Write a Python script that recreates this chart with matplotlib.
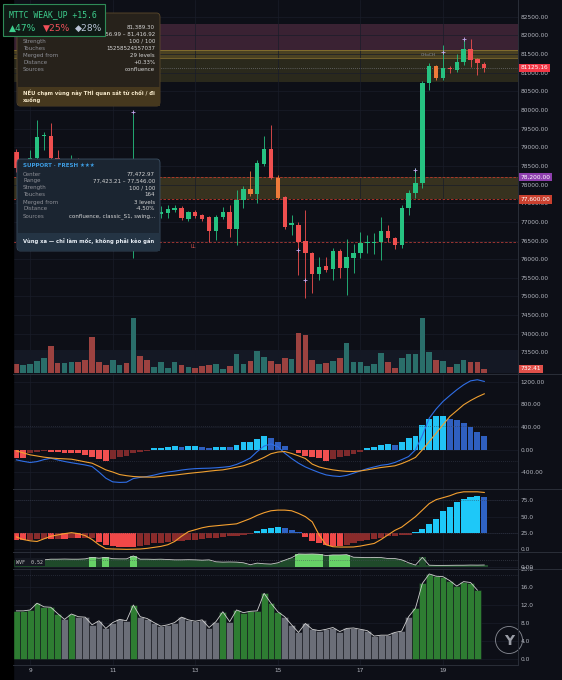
"""
Gráfico BTC 4H con zonas S/R, MACD, oscilador, WVF y volatilidad
Uso:
    python plot.py
"""

import numpy as np
import matplotlib
matplotlib.use("Agg")
import matplotlib.pyplot as plt
from matplotlib.patches import FancyBboxPatch, Rectangle, Ellipse
from matplotlib.lines import Line2D
from matplotlib.transforms import Bbox, TransformedBbox

W, H = 562, 680
plt.rcParams['font.family'] = ['DejaVu Sans']

# ─────────────────────────────────────────────
# 1. DATOS
# ─────────────────────────────────────────────
fechas_pos = [2, 14, 26, 38, 50, 62]
fechas_lbl = ['9', '11', '13', '15', '17', '19']

apertura = [78870, 78440, 78550, 78712, 79300, 79300, 78712, 78400, 78550, 78650,
            78350, 78050, 77300, 77150, 77050, 77300, 77400, 77250, 77700, 77450,
            77300, 77200, 77237, 77318, 77372, 77077, 77264, 77184, 77130, 76755,
            77130, 77264, 76809, 77586, 77881, 77747, 78551, 78953, 78176, 77667,
            76915, 76915, 76487, 76165, 75602, 75817, 75737, 76219, 75763, 76031,
            76165, 76433, 76433, 76460, 76755, 76567, 76380, 77372, 77774, 78042,
            80723, 81179, 80857, 81125, 81071, 81286, 81634, 81366, 81232]
maximo = [78950, 78650, 78930, 79730, 79410, 79650, 78930, 78650, 78800, 78700,
          78400, 78100, 77400, 77250, 77400, 77500, 77450, 79890, 77800, 77500,
          77450, 77420, 77452, 77450, 77420, 77300, 77320, 77210, 77150, 77180,
          77399, 77452, 77854, 77950, 78364, 78650, 79302, 79597, 78250, 77700,
          77184, 77000, 77318, 76200, 76058, 76058, 76300, 76280, 76540, 76407,
          76728, 76648, 76700, 77130, 76915, 76600, 77450, 77850, 78444, 80780,
          81250, 81200, 81742, 81180, 81500, 81930, 81903, 81400, 81286]
minimo = [78350, 78350, 78450, 78600, 78930, 78600, 78300, 78300, 78450, 78250,
          77950, 77150, 77000, 76900, 76950, 77200, 77150, 76030, 77350, 77200,
          77200, 77100, 77103, 77260, 77050, 77020, 77100, 77030, 76460, 76514,
          77080, 76594, 76380, 77372, 77700, 77506, 78500, 78150, 77600, 76800,
          76648, 75575, 74959, 75093, 75441, 75650, 75441, 75495, 75039, 75629,
          76031, 76165, 76138, 75978, 76460, 76272, 76300, 77184, 77650, 77900,
          80535, 80800, 80800, 80990, 81020, 81200, 81152, 80937, 81018]
cierre = [78440, 78550, 78712, 79275, 79330, 78712, 78400, 78550, 78650, 78350,
          78050, 77300, 77150, 77050, 77300, 77400, 77250, 77700, 77450, 77300,
          77350, 77260, 77345, 77372, 77103, 77264, 77157, 77077, 76755, 77130,
          77264, 76809, 77586, 77881, 77747, 78578, 78953, 78176, 77640, 76862,
          76970, 76460, 76165, 75602, 75790, 75710, 76219, 75763, 76058, 76165,
          76433, 76460, 76460, 76755, 76567, 76380, 77372, 77774, 78042, 80723,
          81179, 80857, 81125, 81098, 81286, 81634, 81340, 81259, 81125.16]
volumen = [1700, 1520, 1700, 2140, 2750, 5000, 1830, 1830, 2010, 2010,
           2320, 6590, 2010, 1460, 2380, 1520, 1830, 10120, 3110, 2380,
           1100, 2010, 920, 2010, 1520, 1100, 920, 1230, 1520, 1590,
           790, 1340, 3480, 1700, 2140, 4030, 2870, 2250, 1700, 2690,
           2510, 7320, 7010, 2380, 1700, 1880, 2140, 2800, 5490, 2010,
           2010, 1280, 1700, 3710, 2010, 920, 2750, 3480, 3480, 10070,
           3790, 2320, 2140, 1100, 1700, 2430, 1960, 2070, 732.41]
velas_naranja = [34, 38, 61]
marcas_idx = [17, 41, 42, 58, 62, 65]
marcas_val = [79950, 76246, 75441, 78390, 81554, 81902]

# zonas
zona_res = [(81610, 82300, '#3a2233'), (81390, 81610, '#4a4122'), (80750, 81390, '#2a291c')]
lineas_res = [81600, 81390]
zona_sop = (77600, 78200)
nivel_ll = 76460
precio_actual = 81125.16
precio_ticks = list(range(73500, 82501, 500))

# MACD
macd = [-184, -210, -231, -215, -180, -154, -185, -213, -235, -255,
        -275, -302, -400, -510, -575, -585, -581, -516, -495, -480,
        -455, -425, -400, -385, -365, -350, -340, -335, -332, -325,
        -315, -302, -265, -213, -150, -36, 60, 100, 50, -65,
        -160, -243, -310, -362, -410, -451, -470, -480, -460, -421,
        -380, -340, -310, -280, -265, -231, -180, -125, -6, 250,
        557, 720, 854, 960, 1061, 1150, 1220, 1240, 1210]
senal = [-24, -60, -95, -115, -136, -150, -160, -166, -172, -195,
         -220, -243, -300, -362, -400, -445, -465, -480, -487, -490,
         -492, -480, -465, -455, -440, -425, -412, -400, -385, -372,
         -362, -340, -315, -290, -245, -196, -140, -75, -45, -36,
         -70, -113, -160, -260, -310, -340, -362, -378, -388, -391,
         -380, -362, -340, -320, -305, -290, -250, -200, -140, -6,
         140, 290, 440, 587, 690, 795, 870, 935, 990]
hist_macd = [-150, -155, -65, -36, -24, -41, -53, -59, -65, -71,
             -95, -136, -172, -202, -172, -136, -107, -65, -36, -18,
             18, 24, 41, 59, 41, 59, 59, 41, 24, 41,
             53, 36, 83, 130, 142, 190, 243, 213, 142, 65,
             -12, -65, -113, -136, -154, -207, -172, -136, -113, -77,
             -47, 18, 41, 77, 89, 77, 142, 196, 243, 427,
             540, 593, 593, 540, 516, 474, 397, 320, 237]

# Oscilador (base 25)
osc_hist = [-11, -11, -10, -9.5, -9, -9, -8.5, -8.5, -8, -8,
            -7.5, -7, -14, -18, -20, -21, -22, -22, -20, -18,
            -16, -15, -14, -13, -12, -11, -10, -9, -8, -7,
            -6, -5, -4, -3, -2, 3, 6, 8, 9, 8,
            5, 2, -6, -12, -16, -19, -20, -20, -19, -16,
            -13, -11, -9, -7, -5, -4, -3, -2.5, 2, 6,
            14, 22, 33, 40, 48, 52, 55, 56, 55]
osc_linea = [19, 15, 13, 12, 16, 20, 22, 24, 25.5, 24,
             21, 15, 7, 1, 0.5, 0.3, 0, 0.2, 0.5, 1.5,
             3, 4.5, 7, 12, 20, 27, 30, 33, 35, 36,
             37, 38, 39, 43, 47, 52, 56, 59, 60, 60,
             59, 55, 50, 42, 22, 7, 4, 3.5, 3.5, 3.6,
             5, 7, 9, 15, 22, 29, 34, 42, 50, 60,
             70, 76, 79, 82, 86, 88, 88, 88, 87]

# WVF
wvf = [2.0, 2.05, 2.0, 2.0, 2.1, 2.3, 2.3, 2.35, 2.3, 2.3,
       2.4, 2.85, 2.6, 2.85, 2.45, 2.4, 2.4, 3.3, 2.3, 2.3,
       2.25, 2.3, 2.2, 2.1, 2.1, 2.15, 2.1, 2.0, 2.1, 1.5,
       1.4, 1.45, 1.4, 1.2, 0.6, 1.1, 0.9, 0.8, 1.2, 2.0,
       2.75, 3.9, 3.85, 3.9, 3.8, 3.4, 3.6, 3.6, 3.7, 2.9,
       2.85, 2.8, 2.85, 2.8, 2.5, 2.5, 2.1, 1.2, 0.5, 2.85,
       0.45, 0.4, 0.4, 0.42, 0.45, 0.45, 0.5, 0.48, 0.52]
wvf_alerta = [11, 13, 17, 41, 42, 43, 44, 46, 47, 48]

# Volatilidad (panel inferior)
volat = [10.7, 10.7, 10.9, 12.4, 11.6, 11.5, 10.1, 8.8, 10.0, 9.4,
         9.3, 7.6, 8.5, 6.8, 8.1, 8.8, 8.5, 12.0, 9.4, 9.0,
         8.1, 7.3, 7.6, 8.1, 9.3, 8.7, 8.4, 8.7, 7.0, 8.3,
         10.5, 8.3, 10.9, 10.3, 10.6, 10.7, 14.6, 12.4, 10.5, 9.4,
         7.6, 5.9, 7.9, 6.6, 6.3, 6.6, 7.0, 6.1, 6.8, 6.9,
         6.6, 6.3, 5.1, 5.3, 5.3, 5.9, 6.2, 9.4, 11.3, 16.8,
         18.9, 18.4, 18.3, 17.4, 16.2, 17.2, 17.0, 15.3]
volat_verde = [0, 1, 2, 3, 4, 5, 6, 8, 17, 30, 32, 33, 34, 35, 36, 37, 38,
               58, 59, 60, 61, 62, 63, 64, 65, 66, 67]

# ─────────────────────────────────────────────
# 2. ESTILO
# ─────────────────────────────────────────────
BG = '#0d0f17'
GRID = '#191d29'
TXT = '#b2b5be'
SEP = '#2a2e39'
VERDE = '#26c281'
ROJO = '#ef4f4f'
NARANJA = '#ee7b3a'

fig = plt.figure(figsize=(W / 100, H / 100), dpi=100, facecolor=BG)


def fp(x, y):
    return x / W, 1 - y / H


def nuevo_panel(top, bottom):
    ax = fig.add_axes([13 / W, 1 - bottom / H, 505 / W, (bottom - top) / H])
    ax.set_facecolor(BG)
    for s in ax.spines.values():
        s.set_visible(False)
    ax.set_xlim(-0.49, 72.9)
    ax.set_xticks(fechas_pos)
    ax.tick_params(axis='x', length=0, labelbottom=False)
    ax.grid(True, color=GRID, lw=0.5)
    ax.set_axisbelow(True)
    return ax


def eje_derecho(ax, ticks, fmt):
    ax.yaxis.tick_right()
    ax.set_yticks(ticks)
    ax.set_yticklabels([fmt.format(t) for t in ticks])
    ax.tick_params(axis='y', length=0, labelsize=4.2, labelcolor=TXT, pad=2)


def etiqueta_eje(ax, val, txt, color):
    ax.text(1.005, val, txt, transform=ax.get_yaxis_transform(), ha='left', va='center',
            fontsize=4.2, color='white', zorder=10, clip_on=False,
            bbox=dict(boxstyle='square,pad=0.3', fc=color, ec='none'))


def colores_hist(vals, up, up_d, dn, dn_d):
    cols = []
    for k, v in enumerate(vals):
        prev = vals[k - 1] if k else v
        if v >= 0:
            cols.append(up if v >= prev else up_d)
        else:
            cols.append(dn if v <= prev else dn_d)
    return cols


x = np.arange(len(cierre))

# ─────────────────────────────────────────────
# 3. PANEL DE PRECIO
# ─────────────────────────────────────────────
ax = nuevo_panel(0, 373)
axv = ax.twinx()
ax.set_ylim(72948, 82948)

for lo, hi, c in zona_res:
    ax.axhspan(lo, hi, color=c, lw=0, zorder=0.5)
for lv in lineas_res:
    ax.axhline(lv, color='#b8973c', lw=0.5, alpha=0.7, zorder=0.6)
ax.axhspan(zona_sop[0], zona_sop[1], color='#37321f', lw=0, zorder=0.5)
for lv in zona_sop:
    ax.axhline(lv, color='#c0392b', lw=0.6, ls=(0, (3, 2)), zorder=0.6)
ax.axhline(nivel_ll, color='#b03a35', lw=0.6, ls=(0, (3, 2)), zorder=0.6)
ax.axhline(precio_actual, color='#8a8d96', lw=0.5, ls=(0, (1, 2)), zorder=0.6)

ap = np.array(apertura)
ci = np.array(cierre)
col = [VERDE if c >= o else ROJO for o, c in zip(ap, ci)]
for k in velas_naranja:
    col[k] = NARANJA
ax.vlines(x, minimo, maximo, colors=col, lw=0.6, zorder=2)
ax.bar(x, np.maximum(np.abs(ci - ap), 18), bottom=np.minimum(ap, ci), width=0.64,
       color=col, lw=0, zorder=3)
ax.plot(marcas_idx, marcas_val, '+', color='#c4a8f0', ms=3, mew=0.6, zorder=4)
ax.text(59.8, 81420, 'CHoCH', fontsize=3.2, color='#8c9099', ha='center', va='bottom')
ax.text(25.7, 76350, 'LL', fontsize=3.6, color='#d9534f', ha='center', va='center')

eje_derecho(ax, precio_ticks, '{:.2f}')
etiqueta_eje(ax, precio_actual, f'{precio_actual:.2f}', '#f23645')
etiqueta_eje(ax, 78200, '78,200.00', '#8e3fae')
etiqueta_eje(ax, 77600, '77,600.00', '#c9402f')

# volumen superpuesto
axv.set_ylim(0, 68260)
axv.axhspan(0, 4200, color='#141824', lw=0, zorder=0)
vcol = ['#2a6e6a' if c >= o else '#9c4240' for o, c in zip(ap, ci)]
axv.bar(x, volumen, width=0.82, color=vcol, lw=0, zorder=1)
axv.set_yticks([])
for s in axv.spines.values():
    s.set_visible(False)
etiqueta_eje(axv, volumen[-1], f'{volumen[-1]:.2f}', '#e0504a')
ax.yaxis.tick_right()

# ─────────────────────────────────────────────
# 4. MACD
# ─────────────────────────────────────────────
axm = nuevo_panel(374, 489)
axm.set_ylim(-702, 1342)
axm.bar(x, hist_macd, width=0.85, lw=0,
        color=colores_hist(hist_macd, '#22c3f5', '#2f5fbf', '#f05050', '#7d2a2c'))
axm.axhline(420, color='#3a3f4f', lw=0.5, ls=(0, (1, 2)))
axm.axhline(-205, color='#3a3f4f', lw=0.5, ls=(0, (1, 2)))
axm.plot(x, macd, color='#2f6ee6', lw=0.8)
axm.plot(x, senal, color='#f0a030', lw=0.8)
eje_derecho(axm, [-400, 0, 400, 800, 1200], '{:.2f}')

# ─────────────────────────────────────────────
# 5. OSCILADOR
# ─────────────────────────────────────────────
axo = nuevo_panel(489, 552)
axo.set_ylim(-4.1, 92.3)
axo.axhline(75, color='#3a3f4f', lw=0.5, ls=(0, (1, 2)))
axo.axhline(25, color='#3a3f4f', lw=0.5, ls=(0, (1, 2)))
axo.bar(x, osc_hist, bottom=25, width=0.9, lw=0,
        color=colores_hist(osc_hist, '#1ec8f8', '#2f63c4', '#f04848', '#8a2b2b'))
axo.plot(x, osc_linea, color='#f5a030', lw=0.8)
eje_derecho(axo, [0, 25, 50, 75], '{:.1f}')

# ─────────────────────────────────────────────
# 6. WVF
# ─────────────────────────────────────────────
axw = nuevo_panel(552, 568)
axw.set_ylim(-0.4, 4.5)
axw.axhline(2.0, color='#4a4f5c', lw=0.5, ls=(0, (1, 2)))
wcol = ['#67d167' if k in wvf_alerta else '#1f4a2a' for k in x]
axw.bar(x, wvf, width=1.0, color=wcol, lw=0)
axw.plot(x, wvf, color='#c8c8c8', lw=0.6)
eje_derecho(axw, [0], '{:.2f}')
fig.text(*fp(16, 562), 'WVF  0.52', fontsize=3.6, color='#c8c8c8', family='DejaVu Sans Mono',
         va='center', ha='left', zorder=6,
         bbox=dict(boxstyle='square,pad=0.3', fc='#161922', ec='none'))

# ─────────────────────────────────────────────
# 7. PANEL INFERIOR
# ─────────────────────────────────────────────
axb = nuevo_panel(569, 665)
axb.set_ylim(-1.33, 20)
axb.axhline(18.7, color='#3a3f4f', lw=0.5, ls=(0, (1, 2)))
xb = np.arange(len(volat))
bcol = ['#2e7d32' if k in volat_verde else '#6b6e78' for k in xb]
axb.bar(xb, volat, width=1.0, color=bcol, edgecolor='#14161d', lw=0.4)
axb.plot(xb, volat, color='#d0d0d0', lw=0.6)
eje_derecho(axb, [0, 4, 8, 12, 16, 20], '{:.1f}')
axb.set_xticklabels(fechas_lbl)
axb.tick_params(axis='x', labelbottom=True, labelsize=4.2, labelcolor=TXT, pad=2.5)

# logo
fig.add_artist(Ellipse(fp(509, 640), 27 / W, 27 / H, transform=fig.transFigure,
                       fc='none', ec='#8a8d96', lw=0.6, zorder=5))
fig.text(*fp(509, 641), 'Y', fontsize=10, color='#9a9da6', weight='bold',
         ha='center', va='center', zorder=6)

# ─────────────────────────────────────────────
# 8. SEPARADORES
# ─────────────────────────────────────────────
fig.add_artist(Rectangle((0, 0), 13 / W, 1, transform=fig.transFigure, color='black', zorder=0.5))
fig.add_artist(Line2D([518 / W, 518 / W], [1 - 665 / H, 1], transform=fig.transFigure,
                      color=SEP, lw=0.7, zorder=5))
for yy in [373.5, 489, 552, 568.5]:
    fig.add_artist(Line2D([13 / W, 1], [1 - yy / H] * 2, transform=fig.transFigure,
                          color=SEP, lw=0.7, zorder=5))
fig.add_artist(Line2D([13 / W, 518 / W], [1 - 665 / H] * 2, transform=fig.transFigure,
                      color=SEP, lw=0.7, zorder=5))

# ─────────────────────────────────────────────
# 9. TOOLTIPS
# ─────────────────────────────────────────────
def caja(x0, y0, x1, y1, fc, ec, z=4):
    fig.add_artist(FancyBboxPatch(fp(x0, y1), (x1 - x0) / W, (y1 - y0) / H,
                                  boxstyle='round,pad=0,rounding_size=0.006',
                                  transform=fig.transFigure, fc=fc, ec=ec, lw=0.6, zorder=z))


def fila(y, etiqueta, valor, z=6):
    if etiqueta:
        fig.text(*fp(23, y), etiqueta, fontsize=4, color='#8e9097', va='center', ha='left', zorder=z)
    return fig.text(*fp(155, y), valor, fontsize=4, color='#d6d6d6', va='center', ha='right', zorder=z)


# resistencia (las dos primeras etiquetas quedan tapadas por la caja MTTC)
caja(17, 13, 160, 106, '#27221b', '#5c4a2c')
fig.add_artist(Rectangle(fp(17.5, 105.5), 142.5 / W, 19 / H, transform=fig.transFigure,
                         fc='#46381e', ec='none', zorder=4.5))
res_filas = [('', '81,389.30'), ('', '81,356.99 – 81,416.92'),
             ('Strength', '100 / 100'), ('Touches', '15258524557037'),
             ('Merged from', '29 levels'), ('Distance', '+0.33%'), ('Sources', 'confluence')]
for k, (e, v) in enumerate(res_filas):
    t = fila(27 + k * 7.1, e, v)
    if k == 1:
        t.set_clip_box(TransformedBbox(Bbox([[106 / W, 0], [1, 1]]), fig.transFigure))
        t.set_clip_on(True)
fig.text(*fp(23, 93), 'NẾU chạm vùng này THÌ quan sát từ chối / đi', fontsize=3.8,
         color='#f3e6c8', weight='bold', va='center', ha='left', zorder=6)
fig.text(*fp(23, 100), 'xuống', fontsize=3.8, color='#f3e6c8', weight='bold',
         va='center', ha='left', zorder=6)

# soporte
caja(17, 159, 160, 251, '#1b2531', '#3c4f63')
fig.add_artist(Rectangle(fp(17.5, 250.5), 142.5 / W, 18 / H, transform=fig.transFigure,
                         fc='#243444', ec='none', zorder=4.5))
fig.text(*fp(23, 165.5), 'SUPPORT · FRESH ★★★', fontsize=4, color='#3d9be0', weight='bold',
         va='center', ha='left', zorder=6)
sop_filas = [('Center', '77,472.97'), ('Range', '77,423.21 – 77,546.00'),
             ('Strength', '100 / 100'), ('Touches', '164'), ('Merged from', '3 levels'),
             ('Distance', '-4.50%'), ('Sources', 'confluence, classic_S1, swing...')]
for k, (e, v) in enumerate(sop_filas):
    fila(174 + k * 7, e, v)
fig.text(*fp(23, 241), 'Vùng xa — chỉ làm mốc, không phải kèo gần', fontsize=3.8,
         color='#e8eef5', weight='bold', va='center', ha='left', zorder=6)

# caja MTTC
fig.add_artist(Rectangle(fp(3, 36), 102 / W, 32 / H, transform=fig.transFigure,
                         fc='#0f1a15', ec='#2e8b57', lw=0.8, zorder=8))
fig.text(*fp(9, 15), 'MTTC WEAK_UP +15.6', fontsize=5.9, color='#3ecf8e',
         family='DejaVu Sans Mono', va='center', ha='left', zorder=9)
for xx, t, c in [(9, '▲47%', '#3ecf8e'), (43, '▼25%', '#f0505a'), (75, '◆28%', '#b8c4d6')]:
    fig.text(*fp(xx, 28.5), t, fontsize=6.6, color=c, va='center', ha='left', zorder=9)

plt.savefig('out.png', dpi=100, facecolor=BG)
plt.close()
print('💾 Gráfico guardado: out.png')
